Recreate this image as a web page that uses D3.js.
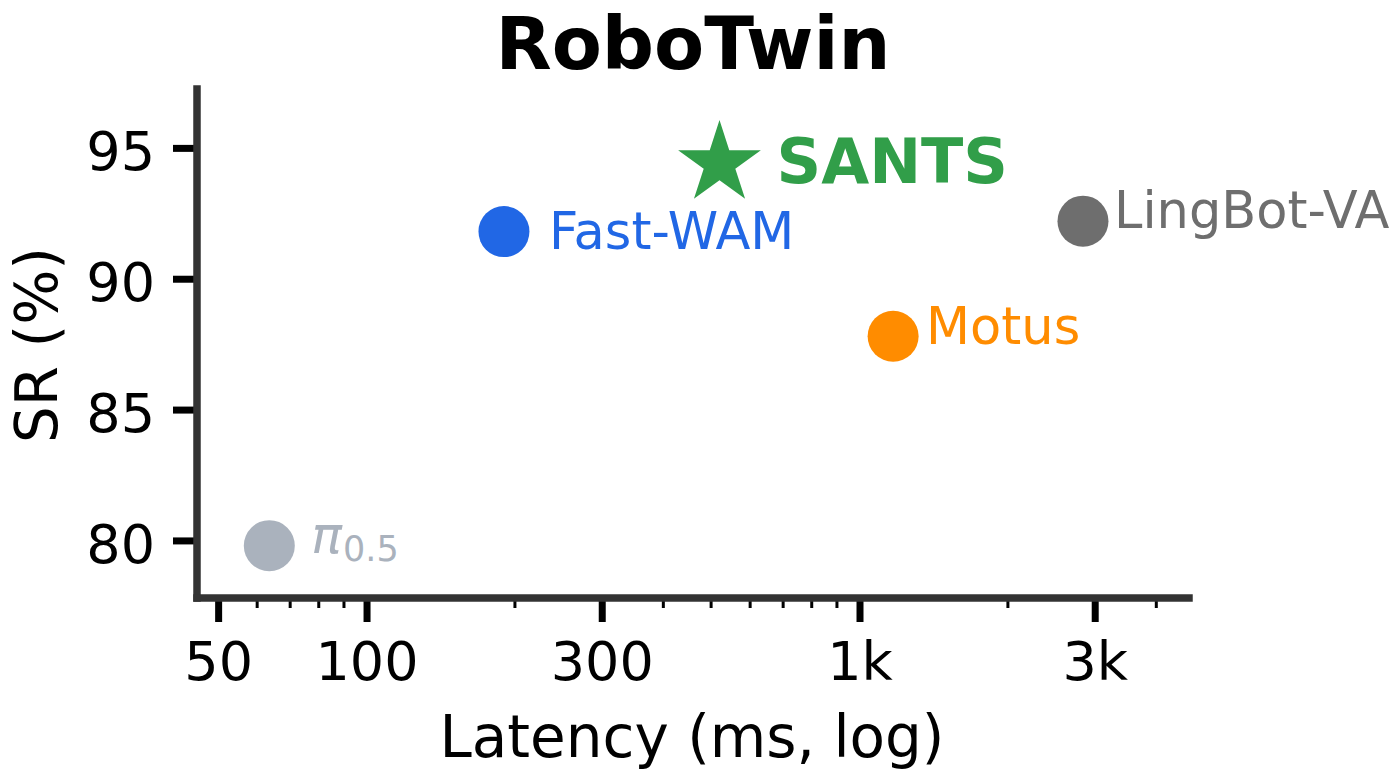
<!DOCTYPE html>
<html>
<head>
<meta charset="utf-8">
<script src="https://cdn.jsdelivr.net/npm/d3@7"></script>
<style>
  body { margin: 0; background: #fff; }
  svg { display: block; font-family: "DejaVu Sans", sans-serif; }
</style>
</head>
<body>
<div id="chart"></div>
<script>
// DATA
const models = ["π0.5", "Fast-WAM", "SANTS", "Motus", "LingBot-VA"];
const latency = [63.5, 190, 520, 1170, 2840];      // ms
const successRate = [79.8, 91.8, 94.4, 87.8, 92.2]; // %

const xTicks = [50, 100, 300, 1000, 3000];
const xTickLabels = ["50", "100", "300", "1k", "3k"];
const xMinorTicks = [60, 70, 80, 90, 200, 400, 500, 600, 700, 800, 900, 2000, 4000];
const yTicks = [80, 85, 90, 95];

// STYLE per model (colour, label offset from the marker)
const colors = {
  "π0.5": "#aab2bd",
  "Fast-WAM": "#2167e5",
  "SANTS": "#319e49",
  "Motus": "#ff8c00",
  "LingBot-VA": "#6e6e6e"
};
const labelOffset = {
  "π0.5": [42, 7],
  "Fast-WAM": [45, 17],
  "SANTS": [57, 19],
  "Motus": [33, 8],
  "LingBot-VA": [31, 7]
};

const W = 1399, H = 778;
const plot = { left: 197, right: 1189, top: 89, bottom: 598 };

const svg = d3.select("#chart").append("svg")
  .attr("width", W)
  .attr("height", H);

// SCALES
const x = d3.scaleLog()
  .domain([45.3, 4660])
  .range([plot.left, plot.right]);

const y = d3.scaleLinear()
  .domain([77.8, 97.25])
  .range([plot.bottom, plot.top]);

// AXES
const xAxis = svg.append("g")
  .attr("transform", `translate(0,${plot.bottom})`)
  .call(d3.axisBottom(x)
    .tickValues(xTicks)
    .tickFormat((d, i) => xTickLabels[i])
    .tickSize(24)
    .tickPadding(20));
xAxis.select(".domain").remove();
xAxis.selectAll(".tick line").attr("stroke", "#000").attr("stroke-width", 7);
xAxis.selectAll(".tick text")
  .attr("font-size", 54)
  .attr("font-family", "DejaVu Sans")
  .attr("fill", "#000");

// minor ticks on the log axis
svg.append("g")
  .attr("transform", `translate(0,${plot.bottom})`)
  .selectAll("line")
  .data(xMinorTicks)
  .join("line")
  .attr("x1", d => x(d))
  .attr("x2", d => x(d))
  .attr("y1", 0)
  .attr("y2", 10)
  .attr("stroke", "#000")
  .attr("stroke-width", 3);

const yAxis = svg.append("g")
  .attr("transform", `translate(${plot.left},0)`)
  .call(d3.axisLeft(y)
    .tickValues(yTicks)
    .tickSize(24)
    .tickPadding(18));
yAxis.select(".domain").remove();
yAxis.selectAll(".tick line").attr("stroke", "#000").attr("stroke-width", 7);
yAxis.selectAll(".tick text")
  .attr("font-size", 54)
  .attr("font-family", "DejaVu Sans")
  .attr("fill", "#000")
  .attr("dy", "0.4em");

// SPINES (left + bottom only)
svg.append("line")
  .attr("x1", plot.left).attr("x2", plot.left)
  .attr("y1", plot.top).attr("y2", plot.bottom)
  .attr("stroke", "#333").attr("stroke-width", 7.5)
  .attr("stroke-linecap", "square");
svg.append("line")
  .attr("x1", plot.left).attr("x2", plot.right)
  .attr("y1", plot.bottom).attr("y2", plot.bottom)
  .attr("stroke", "#333").attr("stroke-width", 7.5)
  .attr("stroke-linecap", "square");

// POINTS
const points = models.map((m, i) => ({ name: m, lat: latency[i], sr: successRate[i] }));

svg.append("g")
  .selectAll("circle")
  .data(points.filter(d => d.name !== "SANTS"))
  .join("circle")
  .attr("cx", d => x(d.lat))
  .attr("cy", d => y(d.sr))
  .attr("r", 25.5)
  .attr("fill", d => colors[d.name]);

const starR = 43.5;
svg.append("g")
  .selectAll("path")
  .data(points.filter(d => d.name === "SANTS"))
  .join("path")
  .attr("transform", d => `translate(${x(d.lat)},${y(d.sr)})`)
  .attr("d", d3.symbol(d3.symbolStar, starR * starR / 0.8908130915292852))
  .attr("fill", d => colors[d.name]);

// LABELS
const labels = svg.append("g")
  .selectAll("text")
  .data(points)
  .join("text")
  .attr("x", d => x(d.lat) + labelOffset[d.name][0])
  .attr("y", d => y(d.sr) + labelOffset[d.name][1])
  .attr("fill", d => colors[d.name])
  .attr("font-size", d => d.name === "SANTS" ? 62 : 51)
  .attr("font-weight", d => d.name === "SANTS" ? "bold" : "normal");

labels.filter(d => d.name !== "π0.5").text(d => d.name);

// π with subscript 0.5
const pi = labels.filter(d => d.name === "π0.5");
pi.append("tspan").attr("font-style", "italic").text("π");
pi.append("tspan").attr("font-size", 35).attr("dy", 8).attr("dx", 1).text("0.5");

// TITLES
svg.append("text")
  .attr("x", (plot.left + plot.right) / 2)
  .attr("y", 69)
  .attr("text-anchor", "middle")
  .attr("font-size", 73)
  .attr("font-weight", "bold")
  .text("RoboTwin");

svg.append("text")
  .attr("x", 692)
  .attr("y", 757)
  .attr("text-anchor", "middle")
  .attr("font-size", 58)
  .text("Latency (ms, log)");

svg.append("text")
  .attr("transform", "translate(57,345) rotate(-90)")
  .attr("text-anchor", "middle")
  .attr("font-size", 58)
  .text("SR (%)");
</script>
</body>
</html>
